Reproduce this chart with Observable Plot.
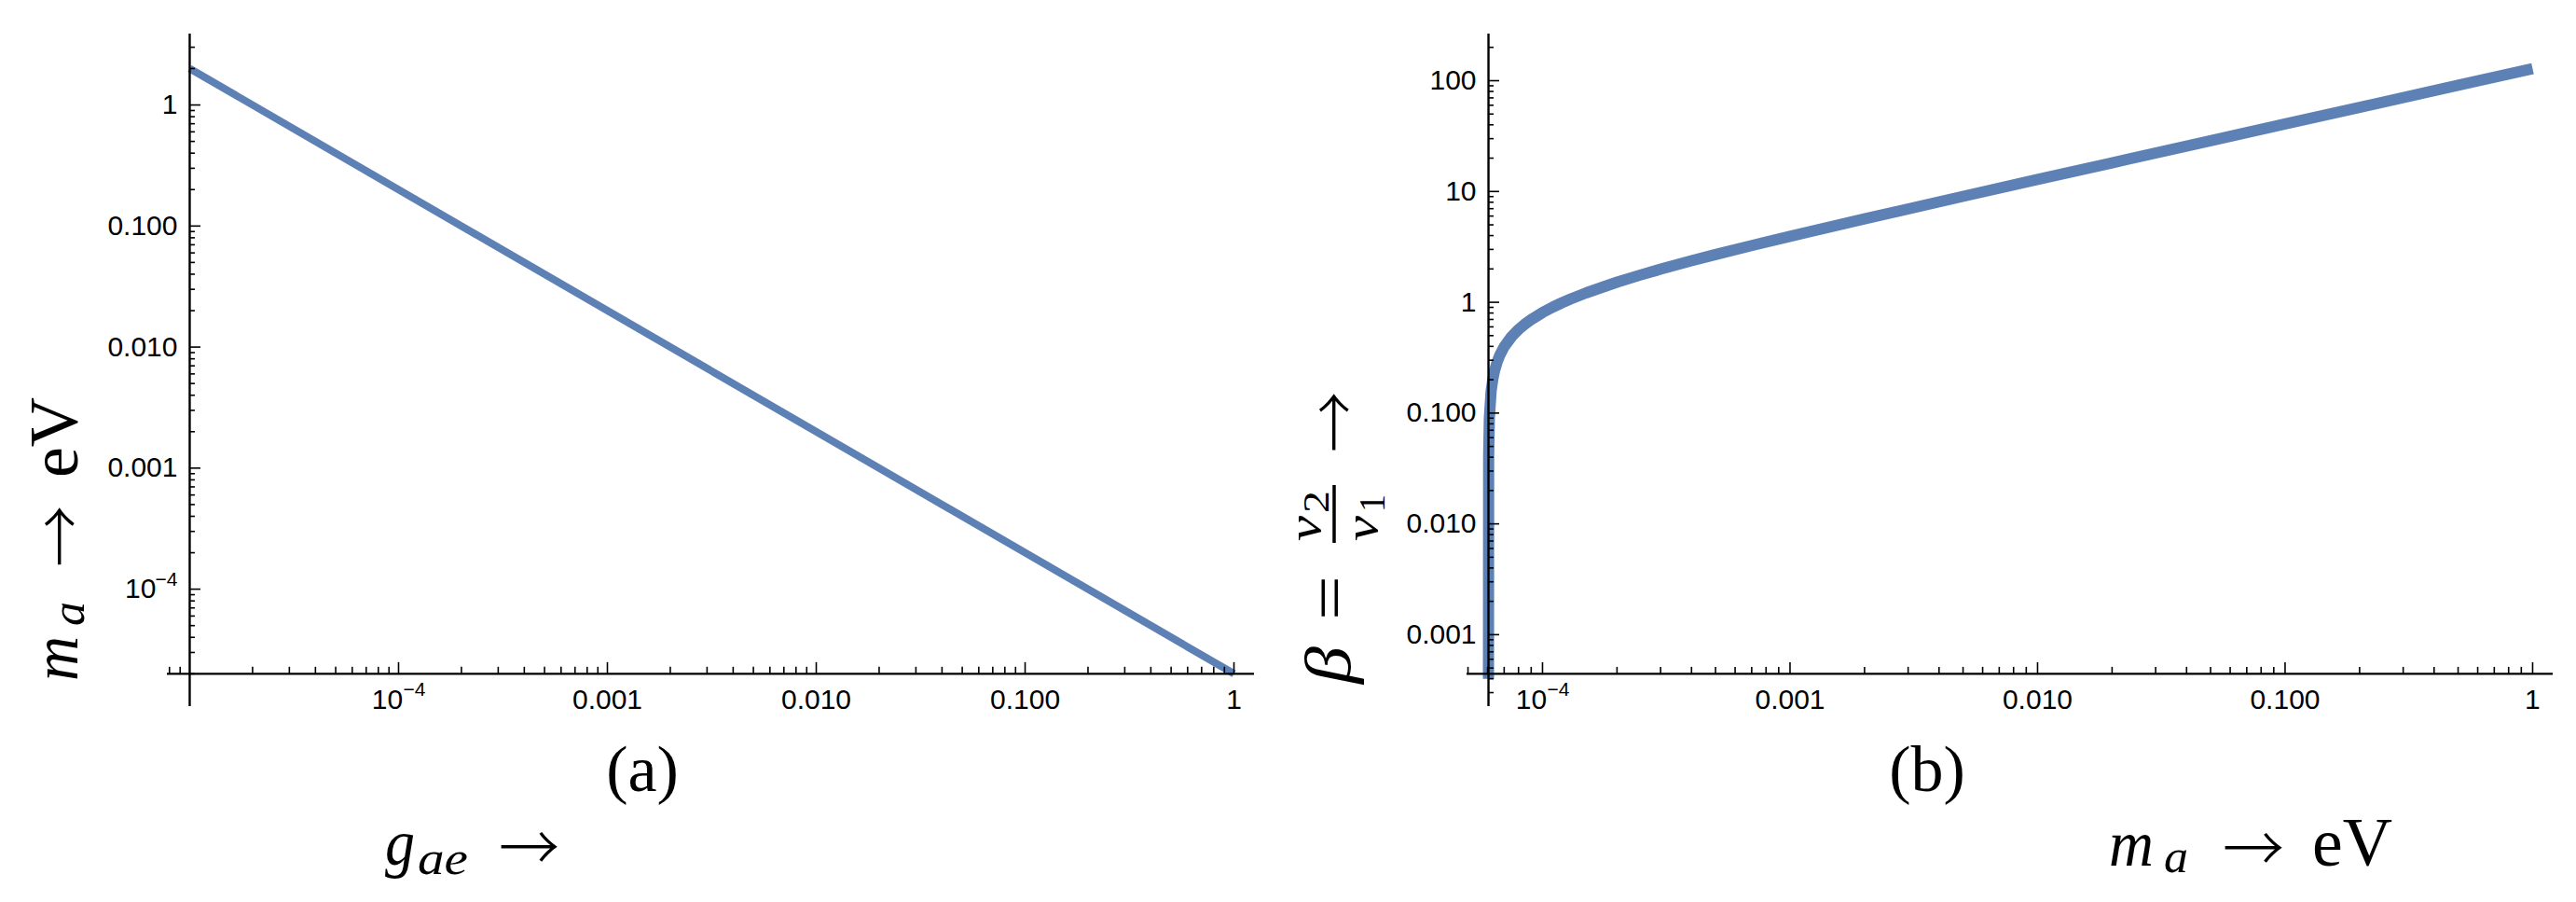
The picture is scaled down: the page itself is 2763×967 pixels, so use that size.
<!DOCTYPE html>
<html><head><meta charset="utf-8">
<script src="https://cdn.jsdelivr.net/npm/d3@7"></script>
<script src="https://cdn.jsdelivr.net/npm/@observablehq/plot@0.6"></script>
<style>
html,body{margin:0;padding:0;background:#fff;}
#wrap{position:relative;width:2763px;height:967px;display:flex;flex-direction:row;}
#wrap svg{display:block;flex:none;max-width:none;}
</style></head><body><div id="wrap"></div>
<script>
// ---------- Panel (a): m_a versus g_ae ----------
const gae = [1e-5, 1];
const maA = [2, 2e-5];

// ---------- Panel (b): beta = v2/v1 versus m_a ----------
const maB = [6.05e-5, 6.06e-5, 6.1e-5, 6.2e-5, 6.3e-5, 6.4e-5, 6.55e-5, 6.7e-5, 7e-5, 7.5e-5, 8e-5, 8.5e-5, 9e-5,
  1e-4, 1.1e-4, 1.2e-4, 1.3e-4, 1.5e-4, 2e-4, 2.5e-4, 3e-4, 4e-4, 5e-4, 7e-4, 1e-3, 2e-3, 5e-3,
  1e-2, 2e-2, 5e-2, 0.1, 0.2, 0.5, 1];
const beta = [4e-4, 0.041, 0.091, 0.158, 0.203, 0.241, 0.287, 0.328, 0.396, 0.49, 0.568, 0.636, 0.698,
  0.808, 0.905, 0.992, 1.072, 1.216, 1.518, 1.770, 1.990, 2.369, 2.695, 3.251, 3.941, 5.662, 9.036,
  12.82, 18.15, 28.73, 40.64, 57.49, 90.9, 128.6];

// ---------- Tick values and labels ----------
const xTicksA = [1e-4, 1e-3, 1e-2, 1e-1, 1];
const xLabelsA = ["10^\u22124", "0.001", "0.010", "0.100", "1"];
const yTicksA = [1e-4, 1e-3, 1e-2, 1e-1, 1];
const yLabelsA = ["10^\u22124", "0.001", "0.010", "0.100", "1"];
const xTicksB = [1e-4, 1e-3, 1e-2, 1e-1, 1];
const xLabelsB = ["10^\u22124", "0.001", "0.010", "0.100", "1"];
const yTicksB = [1e-3, 1e-2, 1e-1, 1, 10, 100];
const yLabelsB = ["0.001", "0.010", "0.100", "1", "10", "100"];

// ---------- Label texts ----------
const panelTags = ["(a)", "(b)"];
const xTitleA = ["g", "ae", "\u2192"];
const maTitle = ["m", "a", "\u2192", "eV"];
const betaTitle = ["\u03B2", "=", "v", "2", "v", "1", "\u2192"];

const SANS = "'Liberation Sans', Arial, Helvetica, sans-serif";
const SERIF = "'Liberation Serif', 'Times New Roman', serif";
const ARROWFONT = "'Noto Sans CJK JP', 'DejaVu Sans', sans-serif";
const BLUE = "#5E81B5";

function minorTicks(lo, hi) {
  const out = [];
  for (let e = Math.floor(Math.log10(lo)); e <= Math.ceil(Math.log10(hi)); e++)
    for (let k = 2; k <= 9; k++) {
      const v = k * Math.pow(10, e);
      if (v >= lo && v <= hi) out.push(v);
    }
  return out;
}

function makePanel(c) {
  const idx = d3.range(c.xs.length);
  const xi = d3.range(c.xTicks.length), yi = d3.range(c.yTicks.length);
  const plainX = xi.filter(i => !c.xLabels[i].includes("^"));
  const powX = xi.filter(i => c.xLabels[i].includes("^"));
  const plainY = yi.filter(i => !c.yLabels[i].includes("^"));
  const powY = yi.filter(i => c.yLabels[i].includes("^"));
  const tk = {stroke: "#000", strokeWidth: 1.6};
  const tx = {fontFamily: SANS, fill: "#000"};
  return Plot.plot({
    width: c.width, height: 967,
    marginLeft: c.marginLeft, marginRight: c.marginRight, marginTop: 36, marginBottom: 210,
    x: {type: "log", domain: c.xDomain, axis: null},
    y: {type: "log", domain: c.yDomain, axis: null},
    style: {background: "transparent", overflow: "visible"},
    marks: [
      Plot.line(idx, {x: i => c.xs[i], y: i => c.ys[i], stroke: BLUE, strokeWidth: c.sw,
        strokeLinecap: "butt", strokeLinejoin: "round"}),
      Plot.ruleY([c.y0], {stroke: "#000", strokeWidth: 2.4}),
      Plot.ruleX([c.x0], {stroke: "#000", strokeWidth: 2.4}),
      Plot.ruleX(minorTicks(c.xDomain[0], c.xDomain[1]), {x: d => d, y1: () => c.y0, y2: () => c.y0, insetTop: -7, insetBottom: 0, ...tk}),
      Plot.ruleX(c.xTicks, {x: d => d, y1: () => c.y0, y2: () => c.y0, insetTop: -12, insetBottom: 0, ...tk}),
      Plot.ruleY(minorTicks(c.yDomain[0], c.yDomain[1]), {y: d => d, x1: () => c.x0, x2: () => c.x0, insetLeft: 0, insetRight: -6, ...tk}),
      Plot.ruleY(c.yTicks, {y: d => d, x1: () => c.x0, x2: () => c.x0, insetLeft: 0, insetRight: -12, ...tk}),
      Plot.text(plainX, {x: i => c.xTicks[i], y: () => c.y0, text: i => c.xLabels[i], dy: 28, fontSize: 30, ...tx}),
      Plot.text(powX, {x: i => c.xTicks[i], y: () => c.y0, text: i => c.xLabels[i].split("^")[0], dx: -12, dy: 28, fontSize: 30, ...tx}),
      Plot.text(powX, {x: i => c.xTicks[i], y: () => c.y0, text: i => c.xLabels[i].split("^")[1], dx: 5, dy: 17, fontSize: 21, textAnchor: "start", ...tx}),
      Plot.text(plainY, {x: () => c.x0, y: i => c.yTicks[i], text: i => c.yLabels[i], dx: -13, fontSize: 30, textAnchor: "end", ...tx}),
      Plot.text(powY, {x: () => c.x0, y: i => c.yTicks[i], text: i => c.yLabels[i].split("^")[0], dx: -36, fontSize: 30, textAnchor: "end", ...tx}),
      Plot.text(powY, {x: () => c.x0, y: i => c.yTicks[i], text: i => c.yLabels[i].split("^")[1], dx: -13, dy: -10, fontSize: 21, textAnchor: "end", ...tx})
    ]
  });
}

function piece(sel, p) {
  const t = sel.append("text")
    .attr("x", p.x).attr("y", p.y || 0)
    .attr("font-family", p.family || SERIF)
    .attr("font-size", p.size)
    .attr("font-style", p.italic ? "italic" : "normal")
    .attr("text-anchor", p.anchor || "start")
    .attr("fill", "#000")
    .text(p.t);
  if (p.weight) t.attr("font-weight", p.weight);
  if (p.len) t.attr("textLength", p.len).attr("lengthAdjust", "spacingAndGlyphs");
  return t;
}

// arrow glyph: shaft centred about 18px above the baseline
function arrow(sel, x, y, len) {
  return piece(sel, {t: "\u2192", x: x, y: y, size: 68, family: ARROWFONT, weight: 300, len: len});
}

// m_a -> eV laid out along a baseline starting at local x = 0
function maLabel(g) {
  piece(g, {t: maTitle[0], x: 0, size: 70, italic: true, len: 48});
  piece(g, {t: maTitle[1], x: 59, y: 7, size: 50, italic: true, len: 26});
  arrow(g, 122, 7, 66);
  piece(g, {t: maTitle[3], x: 218, size: 75, len: 86});
}

const wrap = document.getElementById("wrap");

// Panel (a)
const svgA = makePanel({
  width: 1380, marginLeft: 179, marginRight: 35,
  xDomain: [Math.pow(10, -5.107), Math.pow(10, 0.098)],
  yDomain: [Math.pow(10, -4.97), Math.pow(10, 0.586)],
  x0: 1e-5, y0: 2e-5, xs: gae, ys: maA, sw: 8,
  xTicks: xTicksA, xLabels: xLabelsA, yTicks: yTicksA, yLabels: yLabelsA
});
wrap.appendChild(svgA);
{
  const s = d3.select(svgA);
  piece(s, {t: panelTags[0], x: 689, y: 848, size: 70, anchor: "middle"});
  const gx = s.append("g").attr("transform", "translate(413,927)");
  piece(gx, {t: xTitleA[0], x: 0, size: 70, italic: true, len: 32});
  piece(gx, {t: xTitleA[1], x: 35, y: 10, size: 50, italic: true, len: 54});
  arrow(gx, 122, 7, 65);
  const gy = s.append("g").attr("transform", "translate(83,730) rotate(-90)");
  maLabel(gy);
}

// Panel (b)
const svgB = makePanel({
  width: 1383, marginLeft: 193, marginRight: 25,
  xDomain: [Math.pow(10, -4.305), Math.pow(10, 0.083)],
  yDomain: [Math.pow(10, -3.649), Math.pow(10, 2.421)],
  x0: 6.05e-5, y0: 4.43e-4, xs: maB, ys: beta, sw: 12,
  xTicks: xTicksB, xLabels: xLabelsB, yTicks: yTicksB, yLabels: yLabelsB
});
wrap.appendChild(svgB);
{
  const s = d3.select(svgB);
  piece(s, {t: panelTags[1], x: 687, y: 848, size: 70, anchor: "middle"});
  const gx = s.append("g").attr("transform", "translate(882,928)");
  maLabel(gx);
  const gy = s.append("g").attr("transform", "translate(68,733) rotate(-90)");
  piece(gy, {t: betaTitle[0], x: 0, size: 70, italic: true, len: 40});
  piece(gy, {t: betaTitle[1], x: 92, y: 2, size: 70, anchor: "middle", len: 48});
  gy.append("line").attr("x1", 151).attr("x2", 213).attr("y1", -17).attr("y2", -17)
    .attr("stroke", "#000").attr("stroke-width", 3.5);
  piece(gy, {t: betaTitle[2], x: 153, y: -32, size: 50, italic: true, len: 27});
  piece(gy, {t: betaTitle[3], x: 183, y: -23, size: 40, len: 24});
  piece(gy, {t: betaTitle[4], x: 153, y: 29, size: 50, italic: true, len: 27});
  piece(gy, {t: betaTitle[5], x: 184, y: 37, size: 40, len: 19});
  arrow(gy, 248, 9, 65);
}
</script></body></html>
